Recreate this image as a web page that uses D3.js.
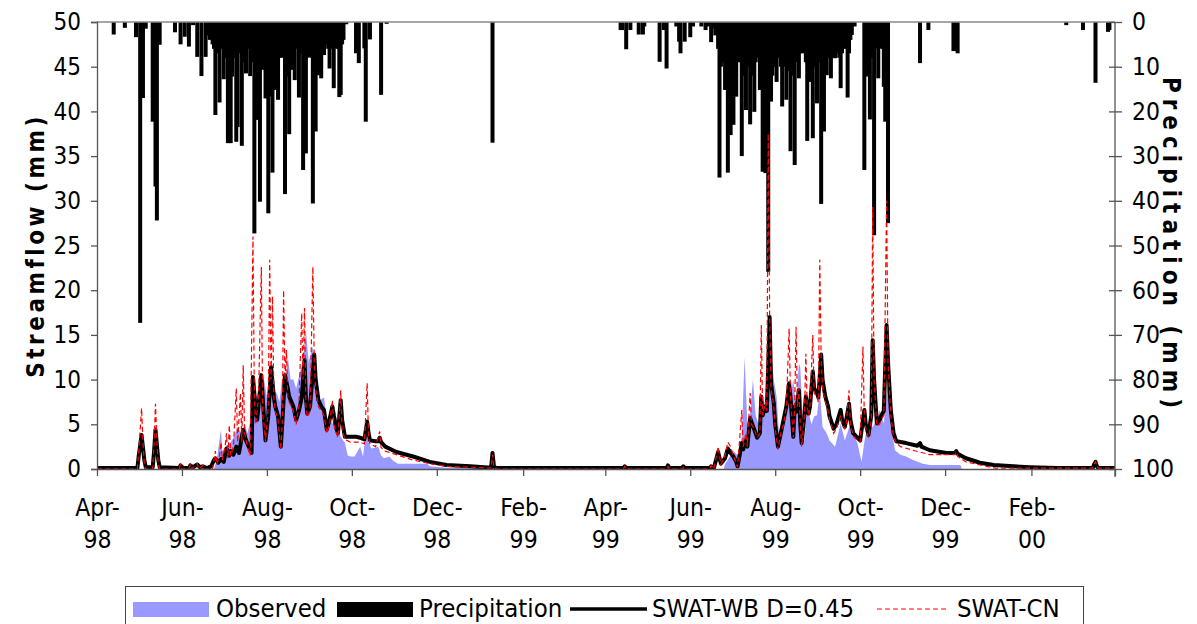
<!DOCTYPE html>
<html lang="en">
<head>
<meta charset="UTF-8">
<title>Streamflow and precipitation</title>
<script src="https://d3js.org/d3.v7.min.js"></script>
<style>
  body { margin: 0; background: #fff; }
  svg text { font-family: "DejaVu Sans Condensed", "DejaVu Sans", sans-serif; font-stretch: condensed; fill: #000; }
</style>
</head>
<body>
<svg id="chart" width="1197" height="624"></svg>
<script>
// all series are [day, value]; day counts from 1 April 1998
const startDate = new Date(1998, 3, 1);
const endDate = new Date(2000, 3, 1);

// daily precipitation (mm), only rainy days
const precipitation = [
  [12, 2.8], [20, 1.3], [28, 3.4], [31, 67.3], [33, 17], [35, 1.5], [40, 22.3], [42, 36.8], [43, 44.4], [45, 5.1],
  [56, 2.3], [60, 5], [63, 3.3], [66, 5.5], [69, 0.7], [72, 7.8], [75, 12.1], [78, 7.8], [80, 3], [81, 4],
  [82, 2.3], [83, 5], [84, 6], [85, 20.8], [86, 6], [87, 7], [88, 18], [89, 6], [90, 4], [91, 12.8],
  [92, 6], [93, 8], [94, 27.1], [95, 7], [96, 27.1], [97, 12.2], [98, 8], [99, 5], [100, 26.8], [101, 23.5],
  [102, 7], [103, 6], [104, 27.7], [105, 9], [106, 7.4], [107, 11.5], [108, 6], [109, 5], [110, 12.1], [111, 5.9],
  [112, 9], [113, 47.3], [114, 8], [115, 21.9], [116, 10], [117, 40.2], [118, 9], [119, 10.7], [120, 8], [121, 17.1],
  [122, 11], [123, 42.8], [124, 9], [125, 16.7], [126, 33.7], [127, 10], [128, 15.2], [129, 9], [130, 17.4], [131, 8],
  [132, 6.6], [133, 8], [134, 5], [135, 38.5], [136, 12.2], [137, 9], [138, 25.1], [139, 8], [140, 10.7], [141, 7],
  [142, 13], [143, 6], [144, 2.9], [145, 16.9], [146, 7], [147, 6], [148, 33.1], [149, 9], [150, 29.4], [151, 8],
  [152, 7.8], [153, 5], [154, 8], [155, 40.6], [156, 9], [157, 24.5], [158, 7], [159, 11.9], [160, 6], [161, 12.6],
  [162, 6], [163, 7.4], [164, 5], [165, 5], [166, 6], [167, 10.4], [168, 4], [169, 6], [170, 14.8], [171, 5],
  [172, 5.9], [173, 6], [174, 16.8], [175, 16.3], [176, 5], [177, 4], [179, 0.5], [186, 7], [188, 9.2], [192, 5.9],
  [193, 22.3], [196, 3.9], [204, 16.3], [208, 0.4], [284, 27],
  [376, 1.8], [377, 1.8], [380, 6.1], [383, 1.8], [389, 2.8], [392, 2.8], [393, 1], [404, 8.9], [407, 1.8], [409, 10.4],
  [416, 1], [418, 4.4], [419, 7], [422, 4.4], [426, 3.4], [428, 1], [434, 1], [437, 1.8], [439, 1], [441, 4.5],
  [443, 1.5], [444, 3], [445, 2], [446, 6], [447, 34.8], [448, 10], [449, 3.7], [450, 9], [451, 15.2], [452, 10],
  [453, 33.7], [454, 12], [455, 25.3], [456, 14], [457, 23], [458, 12], [459, 16.7], [460, 8], [461, 9], [462, 5.9],
  [463, 30], [464, 10], [465, 12], [466, 19.7], [467, 8], [468, 10], [469, 22.9], [470, 6], [471, 12], [472, 20.1],
  [473, 9], [474, 6.3], [475, 8], [476, 15.2], [477, 11], [478, 33.5], [479, 14], [480, 33.8], [481, 12], [482, 55.9],
  [483, 13], [484, 17.8], [485, 12], [486, 10], [487, 9], [488, 13.4], [489, 8], [490, 5.9], [491, 10], [492, 18.9],
  [493, 8], [494, 10], [495, 17.4], [496, 6], [497, 11], [498, 28.9], [499, 12], [500, 10], [501, 32], [502, 8],
  [503, 9], [504, 12.6], [505, 7], [506, 5.1], [507, 7], [508, 6], [509, 9], [510, 26.6], [511, 10], [512, 13.4],
  [513, 9], [514, 26], [515, 8], [516, 10], [517, 18.2], [518, 6], [519, 9], [520, 40.7], [521, 10], [522, 24.5],
  [523, 9], [524, 11.9], [525, 6], [526, 8], [527, 12.6], [528, 8], [529, 7], [530, 8.1], [531, 7], [532, 6],
  [533, 8], [534, 14.8], [535, 7], [536, 5.9], [537, 6], [538, 5], [539, 16.9], [540, 7], [541, 4], [542, 2.9],
  [544, 1], [551, 33.1], [552, 6], [553, 12.2], [554, 5], [555, 21.8], [556, 6], [557, 8], [558, 47.7], [559, 6],
  [560, 5], [561, 12.6], [562, 5], [563, 5.9], [564, 6], [565, 14.5], [566, 22.3], [567, 8], [568, 45], [591, 9.2],
  [597, 1.8], [615, 6.5], [616, 6.5], [618, 7], [696, 0.7], [708, 1.8], [717, 13.6], [726, 2.2], [727, 1.8]
];

// observed streamflow (mm)
const observed = [
  [0, 0], [84, 0], [86, 1], [89, 4.4], [90, 2], [93, 2.5], [96, 3], [98, 3.5], [101, 4.7], [104, 3.8],
  [106, 5.1], [108, 4], [111, 5.9], [113, 7], [115, 8.5], [117, 6.5], [120, 10], [122, 8], [124, 10.7], [126, 9],
  [129, 8.5], [131, 7.5], [133, 10.3], [135, 9], [137, 12.6], [139, 10], [141, 10], [143, 9], [146, 11], [148, 12],
  [150, 15.5], [152, 12], [155, 13.7], [157, 10], [160, 7.7], [163, 8], [165, 5.5], [167, 6.2], [169, 5], [171, 6.6],
  [173, 4.5], [175, 3.6], [178, 2.9], [180, 1.5], [182, 1.4], [185, 1.4], [189, 2.5], [191, 1.4], [193, 4], [195, 3],
  [197, 2.3], [202, 2.5], [204, 1.5], [206, 1.2], [210, 1.4], [212, 1], [216, 0.6], [237, 0.6], [239, 0.3], [251, 0.15],
  [297, 0.1], [298, 0], [450, 0], [451, 0.6], [455, 1.5], [457, 2], [460, 1.5], [463, 3.6], [465, 12.5], [467, 5],
  [469, 6.2], [471, 10], [473, 6], [475, 5], [477, 8.1], [479, 7], [482, 10], [484, 13.3], [486, 10], [488, 8.1],
  [490, 3.2], [493, 5], [495, 6.2], [498, 8], [500, 10], [502, 7], [504, 11.8], [505, 11.4], [507, 5], [508, 3.2],
  [510, 7], [513, 5], [515, 5.9], [517, 6], [519, 8.8], [521, 4.7], [524, 4], [526, 3.2], [530, 2.5], [534, 5.1],
  [537, 3.2], [541, 5.1], [543, 4], [546, 2.9], [549, 0.8], [551, 3], [553, 4.7], [557, 4.7], [560, 5.5], [562, 6.6],
  [565, 5.1], [568, 10], [570, 4.5], [571, 4], [573, 2.1], [577, 1.6], [581, 1.4], [586, 1], [593, 0.6], [598, 0.45],
  [620, 0.45], [621, 0], [731, 0]
];

// SWAT-WB D=0.45 simulated streamflow (mm)
const swatWB = [
  [0, 0.1], [29, 0.1], [30, 1.5], [32, 3.8], [34, 1], [35, 0.2], [40, 0.2], [41, 2], [42, 4.4], [44, 1],
  [45, 0.2], [59, 0.1], [60, 0.4], [62, 0.1], [66, 0.1], [67, 0.4], [69, 0.2], [72, 0.5], [74, 0.2], [76, 0.3],
  [79, 0.1], [82, 0.3], [84, 1], [85, 1.2], [87, 0.7], [89, 1.1], [91, 0.8], [93, 2.3], [95, 1.5], [96, 2],
  [98, 1.6], [100, 2.5], [102, 1.8], [104, 3.6], [105, 4.4], [107, 3.2], [109, 2.5], [111, 1.8], [112, 10.3], [114, 6.5],
  [115, 5.5], [116, 7], [118, 10.5], [120, 5.5], [121, 3.2], [123, 6], [125, 11.4], [127, 8], [128, 7], [130, 5.9],
  [132, 2.5], [133, 5], [135, 10.5], [137, 9], [138, 8.1], [141, 7], [143, 5.5], [145, 6.5], [147, 8], [149, 12.2],
  [150, 8], [151, 6.2], [153, 7], [156, 12.8], [157, 10], [159, 7.7], [161, 7], [163, 6.6], [165, 4.4], [167, 5.5],
  [169, 7], [170, 6], [172, 4.5], [173, 4], [175, 7.7], [176, 5.5], [178, 3.6], [180, 3.6], [186, 3.6], [189, 3.5],
  [192, 3.3], [194, 5.3], [195, 4], [196, 3.2], [200, 3.1], [202, 3.1], [203, 3.5], [204, 3], [207, 2.5], [215, 1.9],
  [227, 1.4], [239, 0.8], [251, 0.45], [268, 0.3], [283, 0.15], [284, 1.8], [285, 0.3], [287, 0.1], [378, 0.1], [379, 0.3],
  [380, 0.1], [409, 0.1], [410, 0.4], [411, 0.1], [420, 0.1], [421, 0.3], [422, 0.1], [440, 0.1], [441, 0.3], [443, 0.1],
  [446, 1.9], [448, 0.6], [451, 1.2], [453, 2.3], [455, 1.8], [457, 1.4], [459, 0.8], [460, 0.3], [463, 2.9], [464, 2.2],
  [466, 3.2], [467, 2.5], [469, 5.7], [471, 4.8], [472, 4.4], [474, 3.5], [476, 4], [477, 8.1], [478, 6], [480, 7],
  [481, 6.5], [483, 17], [484, 9.6], [486, 7.3], [487, 5], [489, 2.5], [491, 4], [493, 5.5], [495, 7], [497, 9.6],
  [498, 8], [500, 3.6], [501, 7], [502, 6.4], [504, 8.8], [505, 5], [506, 2.9], [508, 6], [509, 8.1], [511, 6.2],
  [512, 7], [514, 10.9], [515, 9], [517, 8.5], [518, 8], [520, 12.8], [521, 10], [523, 8.1], [525, 7], [526, 5.9],
  [529, 4.5], [531, 5], [534, 6.6], [535, 5.5], [537, 4.7], [538, 5.5], [540, 7.3], [541, 5.5], [543, 4], [546, 3.5],
  [548, 3.2], [551, 6.6], [552, 5], [554, 3.8], [556, 6], [557, 14.4], [558, 10], [560, 5.1], [562, 5.5], [563, 5.9],
  [565, 6.5], [567, 16.1], [568, 12], [570, 6.6], [572, 4], [574, 3.1], [581, 2.9], [589, 2.6], [591, 2.9], [592, 2.5],
  [598, 2.1], [610, 1.8], [616, 1.8], [617, 2], [618, 1.7], [624, 1.2], [634, 0.7], [644, 0.45], [658, 0.3], [670, 0.2],
  [690, 0.1], [715, 0.1], [716, 0.5], [717, 0.8], [718, 0.3], [719, 0.1], [731, 0.1]
];

// SWAT-CN simulated streamflow (mm)
const swatCN = [
  [0, 0], [29, 0], [30, 2], [32, 6.8], [33, 3], [34, 0.5], [35, 0], [40, 0], [41, 3], [42, 7.3],
  [43, 3], [44, 0.5], [45, 0], [59, 0], [60, 0.5], [61, 0], [66, 0], [67, 0.5], [68, 0], [72, 0.6],
  [73, 0], [76, 0.4], [77, 0], [83, 0], [84, 1], [85, 2], [86, 0.5], [88, 1.5], [89, 3], [90, 1],
  [92, 2.5], [93, 4], [94, 1.2], [95, 4.9], [96, 1.5], [98, 2.5], [100, 9], [101, 3], [103, 8.5], [104, 3],
  [105, 11.6], [106, 4], [108, 2.5], [110, 1.5], [112, 26], [113, 8], [114, 5], [115, 6.5], [116, 8], [118, 22.6],
  [119, 6], [120, 5], [121, 3], [123, 7], [124, 23.4], [125, 10], [126, 19.3], [127, 8], [128, 6.5], [130, 5.5],
  [132, 2.2], [133, 5], [134, 20], [135, 10], [136, 13.3], [137, 8], [138, 7.5], [141, 6.5], [143, 5], [145, 7],
  [147, 17.4], [148, 10], [149, 18], [150, 7], [151, 5.8], [153, 6.5], [155, 22.6], [156, 12], [157, 9], [159, 7],
  [161, 6.5], [163, 6], [165, 4], [167, 5], [169, 7.7], [170, 5], [172, 4], [173, 3.5], [175, 8.8], [176, 4.5],
  [178, 3.3], [182, 3], [186, 3], [189, 3], [192, 2.8], [194, 9.6], [195, 3.5], [196, 2.8], [200, 2.5], [203, 4.2],
  [204, 2.4], [207, 2], [215, 1.6], [227, 1], [239, 0.6], [251, 0.3], [268, 0.2], [283, 0.1], [284, 1.6], [285, 0.2],
  [287, 0], [378, 0], [379, 0.3], [380, 0], [409, 0], [410, 0.3], [411, 0], [420, 0], [421, 0.2], [422, 0],
  [440, 0], [441, 0.4], [443, 0], [446, 2.5], [448, 0.5], [451, 1.5], [453, 3], [455, 2.5], [457, 1.5], [459, 0.6],
  [460, 0.2], [463, 6.6], [464, 2.5], [466, 4], [467, 2.5], [469, 8.5], [470, 5], [472, 4.5], [474, 3.5], [476, 4],
  [477, 16.1], [478, 6], [480, 7.5], [481, 6.5], [482, 37.5], [483, 17.4], [484, 9], [486, 7], [487, 4.5], [489, 2.2],
  [491, 4], [493, 5], [495, 7], [497, 15.7], [498, 8], [500, 3.5], [501, 7], [502, 15.9], [503, 7], [504, 9],
  [505, 5], [506, 2.5], [508, 6], [509, 12.9], [510, 7], [511, 6], [512, 7], [514, 15], [515, 8.5], [517, 8],
  [518, 7.5], [519, 23.4], [520, 12.5], [521, 9], [523, 7.5], [525, 6.5], [526, 5.5], [529, 4], [531, 4.5], [534, 6],
  [535, 5], [537, 4.5], [538, 5], [540, 8.8], [541, 5], [543, 3.7], [546, 3.2], [548, 3], [550, 13.7], [551, 6],
  [552, 4.5], [554, 3.5], [556, 5.5], [557, 29.3], [558, 10], [560, 4.8], [562, 5], [563, 5.5], [565, 6], [567, 30],
  [568, 12], [570, 6], [572, 3.5], [574, 2.9], [577, 2.5], [586, 2.1], [598, 1.6], [610, 1.6], [616, 1.6], [617, 1.9],
  [618, 1.4], [624, 0.8], [634, 0.45], [645, 0.1], [670, 0.1], [700, 0.1], [715, 0.1], [716, 0.5], [717, 0.8], [718, 0.3],
  [719, 0.1], [731, 0.1]
];

const flowTicks = [0, 5, 10, 15, 20, 25, 30, 35, 40, 45, 50];
const rainTicks = [0, 10, 20, 30, 40, 50, 60, 70, 80, 90, 100];
const monthLabels = ["Apr-98", "Jun-98", "Aug-98", "Oct-98", "Dec-98", "Feb-99",
                     "Apr-99", "Jun-99", "Aug-99", "Oct-99", "Dec-99", "Feb-00"];
const legendItems = ["Observed", "Precipitation", "SWAT-WB D=0.45", "SWAT-CN"];

const plot = {left: 97, right: 1115, top: 22, bottom: 469};
const svg = d3.select("#chart");

const x = d3.scaleTime().domain([startDate, endDate]).range([plot.left, plot.right]);
const yFlow = d3.scaleLinear().domain([0, 50]).range([plot.bottom, plot.top]);
const yRain = d3.scaleLinear().domain([0, 100]).range([plot.top, plot.bottom]);
const dayX = d => x(d3.timeDay.offset(startDate, d));

// observed as filled area
svg.append("path")
    .datum(observed)
    .attr("fill", "#9999ff")
    .attr("d", d3.area().x(d => dayX(d[0])).y0(yFlow(0)).y1(d => yFlow(d[1])));

// precipitation bars hang from the top
svg.selectAll("rect.rain")
    .data(precipitation)
    .join("rect")
    .attr("class", "rain")
    .attr("x", d => dayX(d[0]) - 2)
    .attr("width", 4)
    .attr("y", yRain(0))
    .attr("height", d => yRain(d[1]) - yRain(0))
    .attr("fill", "#000");

const flowLine = d3.line().x(d => dayX(d[0])).y(d => yFlow(d[1]));

svg.append("path")
    .datum(swatWB)
    .attr("fill", "none")
    .attr("stroke", "#000")
    .attr("stroke-width", 4)
    .attr("stroke-linejoin", "round")
    .attr("d", flowLine);

svg.append("path")
    .datum(swatCN)
    .attr("fill", "none")
    .attr("stroke", "#ff0000")
    .attr("stroke-width", 1.2)
    .attr("stroke-dasharray", "5,3")
    .attr("d", flowLine);

// frame top
svg.append("line")
    .attr("x1", plot.left).attr("x2", plot.right)
    .attr("y1", plot.top).attr("y2", plot.top)
    .attr("stroke", "#888").attr("stroke-width", 1.5);

// left axis
const leftAxis = svg.append("g")
    .attr("transform", `translate(${plot.left},0)`)
    .call(d3.axisLeft(yFlow).tickValues(flowTicks).tickSize(6).tickPadding(10));
leftAxis.selectAll("text").style("font-size", "24px");
leftAxis.selectAll("line, path").attr("stroke", "#555").attr("stroke-width", 1.3);

// right axis, ticks cross the line
const rightAxis = svg.append("g")
    .attr("transform", `translate(${plot.right},0)`)
    .call(d3.axisRight(yRain).tickValues(rainTicks).tickSize(7).tickPadding(10).tickSizeOuter(0));
rightAxis.selectAll(".tick line").attr("x1", -6);
rightAxis.selectAll("text").style("font-size", "24.5px");
rightAxis.selectAll("line, path").attr("stroke", "#555").attr("stroke-width", 1.3);
rightAxis.select("path.domain").attr("d", `M0,${plot.top}V${plot.bottom + 8}`);

// bottom axis with two-line month labels
const tickDates = d3.timeMonth.range(startDate, d3.timeDay.offset(endDate, 1), 2);
const bottomAxis = svg.append("g")
    .attr("transform", `translate(0,${plot.bottom})`)
    .call(d3.axisBottom(x).tickValues(tickDates).tickSize(7).tickSizeOuter(0).tickFormat(""));
bottomAxis.selectAll("line, path").attr("stroke", "#555").attr("stroke-width", 1.3);
bottomAxis.selectAll(".tick").each(function(d, i) {
  if (i >= monthLabels.length) return;
  const parts = monthLabels[i].split("-");
  const t = d3.select(this).append("text")
      .attr("text-anchor", "middle")
      .style("font-size", "24.5px");
  t.append("tspan").attr("x", 0).attr("y", 47).text(parts[0] + "-");
  t.append("tspan").attr("x", 0).attr("y", 79).text(parts[1]);
});

// axis titles
svg.append("text")
    .attr("transform", `translate(44,${(plot.top + plot.bottom) / 2}) rotate(-90)`)
    .attr("text-anchor", "middle")
    .style("font-size", "24px").style("font-weight", "bold").style("letter-spacing", "3.5px")
    .text("Streamflow (mm)");

svg.append("text")
    .attr("transform", `translate(1163,${(plot.top + plot.bottom) / 2}) rotate(90)`)
    .attr("text-anchor", "middle")
    .style("font-size", "24px").style("font-weight", "bold").style("letter-spacing", "6px")
    .text("Precipitation (mm)");

// legend
const legend = svg.append("g");
legend.append("rect")
    .attr("x", 125.5).attr("y", 586.5).attr("width", 958).attr("height", 60)
    .attr("fill", "#fff").attr("stroke", "#444").attr("stroke-width", 1);
legend.append("rect").attr("x", 133).attr("y", 602).attr("width", 76).attr("height", 15).attr("fill", "#9999ff");
legend.append("rect").attr("x", 337).attr("y", 602).attr("width", 76).attr("height", 15).attr("fill", "#000");
legend.append("line").attr("x1", 570).attr("x2", 647).attr("y1", 609).attr("y2", 609)
    .attr("stroke", "#000").attr("stroke-width", 3.5);
legend.append("line").attr("x1", 877).attr("x2", 948).attr("y1", 609).attr("y2", 609)
    .attr("stroke", "#ff0000").attr("stroke-width", 1.2).attr("stroke-dasharray", "5,3");
const legendX = [216, 419, 652, 957];
legend.selectAll("text.item")
    .data(legendItems)
    .join("text")
    .attr("class", "item")
    .attr("x", (d, i) => legendX[i])
    .attr("y", 617)
    .style("font-size", "25.5px")
    .text(d => d);
</script>
</body>
</html>
